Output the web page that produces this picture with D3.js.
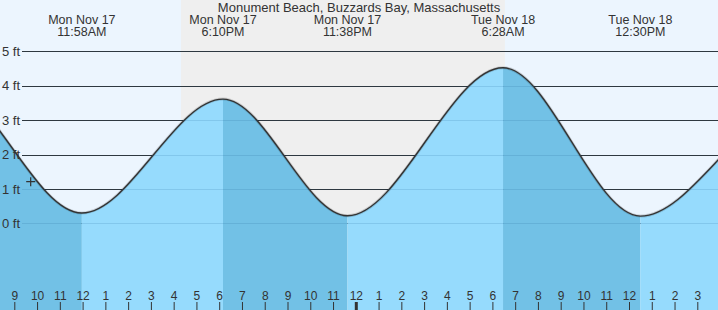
<!DOCTYPE html>
<html>
<head>
<meta charset="utf-8">
<script src="https://cdn.jsdelivr.net/npm/d3@7"></script>
<style>
  html, body { margin: 0; padding: 0; background: #fff; }
  svg { display: block; font-family: "Liberation Sans", Arial, sans-serif; }
</style>
</head>
<body>
<svg id="chart" width="718" height="310"></svg>
<script>
// ---- data (time = hours since Mon Nov 17 00:00) ----
const title = "Monument Beach, Buzzards Bay, Massachusetts";
// tide extremes; the first two and last two lie outside the visible window
const extremeTimes   = [-0.2, 5.8, 11.967, 18.167, 23.633, 30.467, 36.5, 43.08, 49.2];
const extremeHeights = [0.35, 4.12, 0.30, 3.61, 0.22, 4.52, 0.21, 3.30, 0.25];
const extremeDay     = ["Sun Nov 16", "Mon Nov 17", "Mon Nov 17", "Mon Nov 17", "Mon Nov 17", "Tue Nov 18", "Tue Nov 18", "Tue Nov 18", "Wed Nov 19"];
const extremeClock   = ["11:48PM", "5:48AM", "11:58AM", "6:10PM", "11:38PM", "6:28AM", "12:30PM", "7:05PM", "1:12AM"];
const nightStart = [16.32];   // sunset Mon
const nightEnd   = [30.55];   // sunrise Tue
const hourTicks  = d3.range(9, 40);        // 9 AM Mon .. 3 PM Tue
const feetTicks  = [0, 1, 2, 3, 4, 5];
const nowTime    = [9.72];
const nowHeight  = [1.21];
const viewStart = 8.372, viewEnd = 39.9;

// ---- layout ----
const W = 718, H = 310;
const x = d3.scaleLinear().domain([9, 39]).range([14.3, 697.3]);
const y = d3.scaleLinear().domain([0, 5]).range([223.3, 51.3]);

const svg = d3.select("#chart");

// sky background (day)
svg.append("rect").attr("x", 0).attr("y", 0).attr("width", W).attr("height", H).attr("fill", "#ECF5FE");
// night band
nightStart.forEach((s, i) => {
  svg.append("rect")
    .attr("x", x(s)).attr("y", 0)
    .attr("width", x(nightEnd[i]) - x(s)).attr("height", H)
    .attr("fill", "#EFEFEF");
});

// grid lines
const yAxis = d3.axisLeft(y).tickValues(feetTicks)
  .tickSizeInner(-(W - 22)).tickSizeOuter(0).tickFormat("");
const gy = svg.append("g").attr("transform", "translate(22,0)").call(yAxis);
gy.select(".domain").remove();
gy.selectAll(".tick line").attr("stroke", "#333").attr("stroke-width", 1)
  .attr("shape-rendering", "crispEdges");

// tide curve
const pts = extremeTimes.map((t, i) => [t, extremeHeights[i]]);
const clipId = "viewclip";
svg.append("clipPath").attr("id", clipId).append("rect")
  .attr("x", 0).attr("y", 0).attr("width", W).attr("height", H);

const area = d3.area().curve(d3.curveMonotoneX)
  .x(d => x(d[0])).y0(H).y1(d => y(d[1]));
const line = d3.line().curve(d3.curveMonotoneX)
  .x(d => x(d[0])).y(d => y(d[1]));

// water bands: falling tide darker, rising tide lighter
const waterG = svg.append("g").attr("clip-path", `url(#${clipId})`);
for (let i = 0; i < extremeTimes.length - 1; i++) {
  const falling = extremeHeights[i] > extremeHeights[i + 1];
  const cid = "band" + i;
  svg.append("clipPath").attr("id", cid).append("rect")
    .attr("x", x(extremeTimes[i])).attr("y", 0)
    .attr("width", x(extremeTimes[i + 1]) - x(extremeTimes[i])).attr("height", H);
  waterG.append("path").datum(pts)
    .attr("clip-path", `url(#${cid})`)
    .attr("d", area)
    .attr("fill", falling ? "#72C1E6" : "#96DBFD");
}
// faint grid lines seen through water
const gy2 = svg.append("g").attr("transform", "translate(22,0)")
  .call(d3.axisLeft(y).tickValues(feetTicks).tickSizeInner(-(W - 22)).tickSizeOuter(0).tickFormat(""));
gy2.select(".domain").remove();
gy2.selectAll(".tick line").attr("stroke", "rgba(20,90,140,0.15)").attr("shape-rendering", "crispEdges");

// curve outline (with soft shadow)
waterG.append("path").datum(pts).attr("d", line)
  .attr("fill", "none").attr("stroke", "rgba(0,0,0,0.15)").attr("stroke-width", 3);
waterG.append("path").datum(pts).attr("d", line)
  .attr("fill", "none").attr("stroke", "#333").attr("stroke-width", 1.4);

// feet labels on top
const gyl = svg.append("g").attr("transform", "translate(22,0)")
  .call(d3.axisLeft(y).tickValues(feetTicks).tickSize(0).tickPadding(2).tickFormat(d => d + " ft"));
gyl.select(".domain").remove();
gyl.selectAll(".tick text").attr("fill", "#333").attr("font-size", 13)
  .attr("font-family", "Liberation Sans, Arial, sans-serif");

// current time marker
nowTime.forEach((t, i) => {
  const cx = x(t), cy = y(nowHeight[i]);
  svg.append("path")
    .attr("d", `M${cx - 4.5},${cy}H${cx + 4.5}M${cx},${cy - 4.5}V${cy + 4.5}`)
    .attr("stroke", "#333").attr("stroke-width", 1.2).attr("fill", "none");
});

// bottom hour axis
const xAxis = d3.axisTop(x).tickValues(hourTicks)
  .tickSizeInner(8).tickSizeOuter(0).tickPadding(2)
  .tickFormat(d => String((d % 12) || 12));
const gx = svg.append("g").attr("transform", `translate(0,${H})`).call(xAxis);
gx.select(".domain").remove();
gx.selectAll(".tick line").attr("stroke", "#333").attr("stroke-width", d => d % 24 === 0 ? 3 : 1);
gx.selectAll(".tick text").attr("fill", "#333").attr("font-size", 12)
  .attr("font-family", "Liberation Sans, Arial, sans-serif");

// title
svg.append("text").attr("x", 359).attr("y", 11.7)
  .attr("text-anchor", "middle").attr("font-size", 13).attr("fill", "#333")
  .text(title);

// extreme labels (visible ones)
extremeTimes.forEach((t, i) => {
  if (t < viewStart || t > viewEnd) return;
  const g = svg.append("g").attr("text-anchor", "middle").attr("font-size", 12.5).attr("fill", "#333");
  g.append("text").attr("x", x(t)).attr("y", 23.5).text(extremeDay[i]);
  g.append("text").attr("x", x(t)).attr("y", 36).text(extremeClock[i]);
});
</script>
</body>
</html>
